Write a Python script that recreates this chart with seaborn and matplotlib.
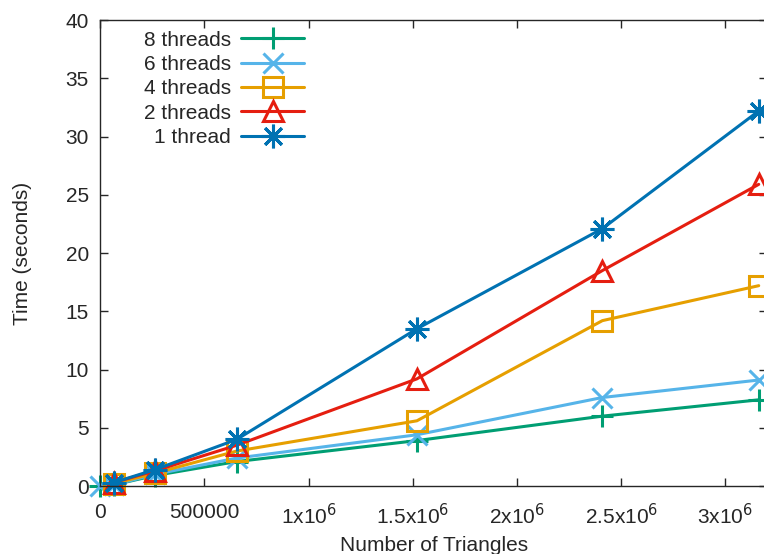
import pandas as pd
import matplotlib
matplotlib.use("Agg")
import matplotlib.pyplot as plt
import matplotlib.ticker as mticker
import seaborn as sns

# Triangle counts and timings (seconds)
triangles = [65536, 262144, 655360, 1520000, 2410000, 3160000]
t8 = [0.1, 0.9, 2.1, 3.9, 6.0, 7.4]
t6 = [0.1, 1.0, 2.4, 4.4, 7.6, 9.1]
t4 = [0.2, 1.1, 3.0, 5.6, 14.2, 17.2]
t2 = [0.3, 1.3, 3.5, 9.2, 18.5, 25.9]
t1 = [0.3, 1.4, 4.0, 13.5, 22.1, 32.2]
series_names = ["8 threads", "6 threads", "4 threads", "2 threads", "1 thread"]

sns.set_style("ticks")
plt.rcParams['font.family'] = ['Liberation Sans', 'DejaVu Sans']
plt.rcParams['font.size'] = 15

rows = []
for name, vals in zip(series_names, [t8, t6, t4, t2, t1]):
    xs = list(triangles)
    ys = list(vals)
    if name in ("8 threads", "6 threads"):
        xs = [0] + xs
        ys = [0] + ys
    for x, y in zip(xs, ys):
        rows.append({"triangles": x, "time": y, "series": name})
df = pd.DataFrame(rows)

colors = {"8 threads": "#009e73", "6 threads": "#56b4e9", "4 threads": "#e69f00",
          "2 threads": "#e51e10", "1 thread": "#0072b2"}
markers = {"8 threads": "+", "6 threads": "x", "4 threads": "s",
           "2 threads": "^", "1 thread": (8, 2, 0)}
msizes = {"8 threads": 16, "6 threads": 15, "4 threads": 14,
          "2 threads": 14, "1 thread": 17}

fig = plt.figure(figsize=(7.64, 5.54), dpi=100)
ax = fig.add_axes([0.131, 0.1227, 0.873, 0.841])

for name in series_names:
    sub = df[df["series"] == name]
    filled = name not in ("4 threads", "2 threads")
    sns.lineplot(data=sub, x="triangles", y="time", ax=ax, color=colors[name],
                 marker=markers[name], markersize=msizes[name], linewidth=2.2,
                 markeredgewidth=2.2, label=name,
                 markerfacecolor=colors[name] if filled else "none",
                 markeredgecolor=colors[name], clip_on=False)

ax.set_xlim(0, 3.2e6)
ax.set_ylim(0, 40)
ax.xaxis.set_major_locator(mticker.MultipleLocator(500000))
ax.yaxis.set_major_locator(mticker.MultipleLocator(5))


def fmt(v, pos):
    if v == 0:
        return "0"
    if v < 1e6:
        return "%d" % v
    return "%gx10$^{6}$" % (v / 1e6)


ax.xaxis.set_major_formatter(mticker.FuncFormatter(fmt))
ax.tick_params(direction="in", top=True, right=True, length=6, width=1,
               labelsize=15)
ax.tick_params(axis="x", pad=12)
ax.tick_params(axis="y", pad=8)
for s in ax.spines.values():
    s.set_linewidth(1)
    s.set_visible(True)

ax.set_xlabel("Number of Triangles", labelpad=6)
ax.set_ylabel("Time (seconds)", labelpad=24)

ax.legend(loc="upper left", frameon=False, markerfirst=False, handlelength=3.0,
          borderaxespad=0.1, labelspacing=0.26, bbox_to_anchor=(0.05, 1.0),
          handletextpad=0.5, fontsize=15)

fig.savefig("out.png", dpi=100)
